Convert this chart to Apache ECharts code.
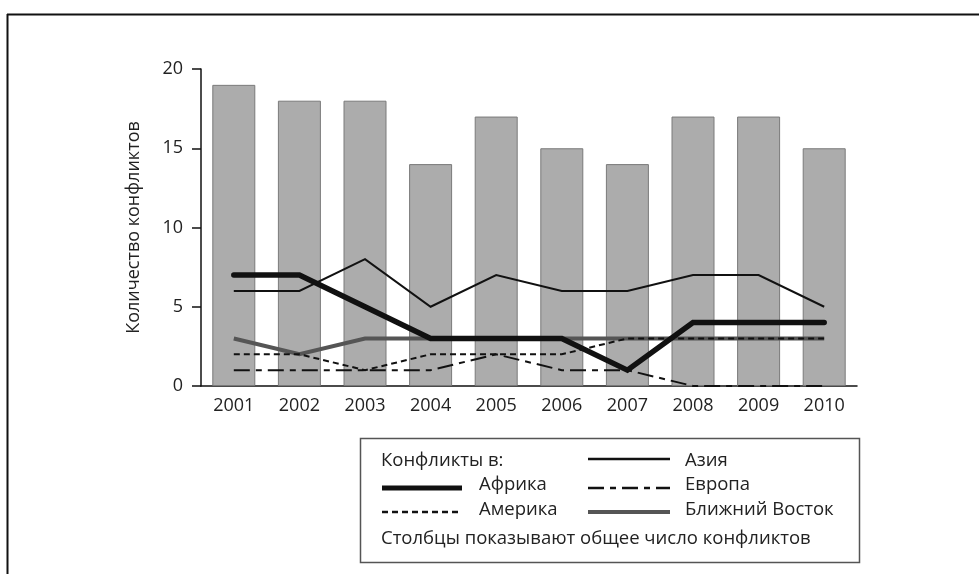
<!DOCTYPE html>
<html><head><meta charset="utf-8">
<script src="https://cdn.jsdelivr.net/npm/echarts@6/dist/echarts.min.js"></script>
<style>html,body{margin:0;padding:0;background:#fff}#c{width:979px;height:574px}</style>
</head><body><div id="c"></div>
<script>
const years = ['2001','2002','2003','2004','2005','2006','2007','2008','2009','2010'];
const totalConflicts = [19,18,18,14,17,15,14,17,17,15];
const asia = [6,6,8,5,7,6,6,7,7,5];
const africa = [7,7,5,3,3,3,1,4,4,4];
const america = [2,2,1,2,2,2,3,3,3,3];
const europe = [1,1,1,1,2,1,1,0,0,0];
const middleEast = [3,2,3,3,3,3,3,3,3,3];
const yTicks = [0,5,10,15,20];
const yAxisTitle = 'Количество конфликтов';
const legendTitle = 'Конфликты в:';
const legendNote = 'Столбцы показывают общее число конфликтов';
const names = {asia:'Азия', africa:'Африка', america:'Америка', europe:'Европа', me:'Ближний Восток'};

const FONT = '"Open Sans", "DejaVu Sans", sans-serif';
const styles = {
  asia: {color:'#111', width:2, type:'solid'},
  africa: {color:'#111', width:5.5, type:'solid', cap:'round'},
  america: {color:'#111', width:2, type:[6,4]},
  europe: {color:'#111', width:2, type:[16,6,6,6]},
  me: {color:'#555', width:4, type:'solid'}
};
function lineSeries(key, data, z){
  const s = styles[key];
  return {type:'line', name:names[key], data:data, symbol:'none', z:z,
    lineStyle:{color:s.color, width:s.width, type:s.type, cap:s.cap||'butt', join:'miter'}};
}
function legendLine(key, x1, x2, y, w){
  const s = styles[key];
  return {type:'line', shape:{x1:x1,y1:y,x2:x2,y2:y},
    style:{stroke:s.color, lineWidth:w, lineDash:Array.isArray(s.type)?s.type:null}};
}
function legendText(t, x, y){
  return {type:'text', x:x, y:y, style:{text:t, font:'18.5px '+FONT, fill:'#222', textVerticalAlign:'middle'}};
}
const chart = echarts.init(document.getElementById('c'), null, {renderer:'canvas'});
chart.setOption({
  backgroundColor:'#fff',
  animation:false,
  grid:{left:201, right:122, top:69, bottom:188, containLabel:false},
  xAxis:{type:'category', data:years, boundaryGap:true,
    axisLine:{lineStyle:{color:'#111', width:1.5}},
    axisTick:{show:false},
    axisLabel:{color:'#222', fontSize:18, fontFamily:FONT, margin:11}},
  yAxis:{type:'value', min:yTicks[0], max:yTicks[yTicks.length-1], interval:5,
    name:yAxisTitle, nameLocation:'middle', nameGap:58, nameRotate:90,
    nameTextStyle:{color:'#222', fontSize:18, fontFamily:FONT},
    axisLine:{show:true, lineStyle:{color:'#111', width:1.5}},
    axisTick:{show:true, length:9, lineStyle:{color:'#111', width:1.5}},
    splitLine:{show:false},
    axisLabel:{color:'#222', fontSize:18, fontFamily:FONT, margin:18}},
  series:[
    {type:'bar', name:'total', data:totalConflicts, barWidth:43, z:1,
      itemStyle:{color:'#acacac', borderColor:'#7a7a7a', borderWidth:1}},
    lineSeries('me', middleEast, 3),
    lineSeries('africa', africa, 4),
    lineSeries('asia', asia, 5),
    lineSeries('europe', europe, 6),
    lineSeries('america', america, 7)
  ],
  graphic:[
    {type:'line', shape:{x1:7,y1:14.5,x2:979,y2:14.5}, style:{stroke:'#111', lineWidth:2}},
    {type:'line', shape:{x1:7.5,y1:14,x2:7.5,y2:574}, style:{stroke:'#111', lineWidth:2}},
    {type:'rect', shape:{x:360.5,y:438.5,width:499,height:124}, style:{fill:'#fff', stroke:'#555', lineWidth:1.5}},
    legendText(legendTitle, 381, 461),
    legendLine('asia', 588, 670, 459, 2.5), legendText(names.asia, 685, 461),
    legendLine('africa', 382, 462, 488, 5), legendText(names.africa, 479, 485),
    legendLine('europe', 588, 670, 488, 2.5), legendText(names.europe, 685, 485),
    legendLine('america', 382, 462, 512, 2.5), legendText(names.america, 479, 510),
    legendLine('me', 588, 670, 512, 4), legendText(names.me, 685, 510),
    legendText(legendNote, 381, 539)
  ]
});
</script></body></html>
